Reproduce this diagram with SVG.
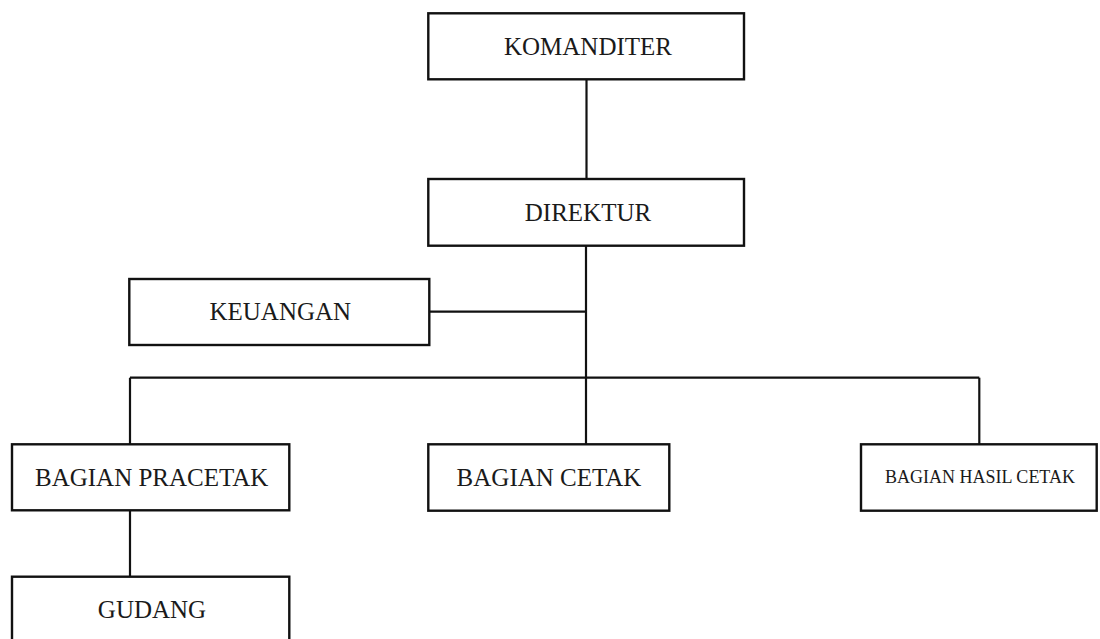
<svg xmlns="http://www.w3.org/2000/svg" width="1100" height="639" viewBox="0 0 1100 639">
<style>
.box{fill:#fff;stroke:#111;stroke-width:2.4}
.lbl{font-family:"Liberation Serif","Times New Roman",serif;font-size:25px;fill:#1a1a1a;text-anchor:middle}
.sm{font-size:18px}
.ln{stroke:#111;stroke-width:2.2;fill:none}
</style>
<rect width="1100" height="639" fill="#fff"/>
<g id="connectors">
<line class="ln" x1="586.5" y1="79" x2="586.5" y2="179"/>
<line class="ln" x1="586" y1="246" x2="586" y2="444"/>
<line class="ln" x1="429" y1="311.7" x2="586" y2="311.7"/>
<line class="ln" x1="130" y1="377.7" x2="979.3" y2="377.7"/>
<line class="ln" x1="130" y1="377.7" x2="130" y2="444"/>
<line class="ln" x1="979.3" y1="377.7" x2="979.3" y2="444"/>
<line class="ln" x1="130" y1="510" x2="130" y2="577"/>
</g>
<g id="komanditer">
<rect class="box" x="428.3" y="13.3" width="315.7" height="66"/>
<text class="lbl" x="588" y="55">KOMANDITER</text>
</g>
<g id="direktur">
<rect class="box" x="428.3" y="179" width="315.7" height="66.7"/>
<text class="lbl" x="588" y="220.7">DIREKTUR</text>
</g>
<g id="keuangan">
<rect class="box" x="129.3" y="279" width="300" height="66"/>
<text class="lbl" x="280.3" y="320">KEUANGAN</text>
</g>
<g id="bagian-pracetak">
<rect class="box" x="12" y="444.3" width="277.3" height="66"/>
<text class="lbl" x="151.7" y="485.7">BAGIAN PRACETAK</text>
</g>
<g id="bagian-cetak">
<rect class="box" x="428.3" y="444.3" width="241" height="66.4"/>
<text class="lbl" x="549" y="485.7">BAGIAN CETAK</text>
</g>
<g id="bagian-hasil-cetak">
<rect class="box" x="861" y="444.3" width="235.7" height="66.4"/>
<text class="lbl sm" x="980" y="483">BAGIAN HASIL CETAK</text>
</g>
<g id="gudang">
<rect class="box" x="12" y="576.7" width="277.3" height="75"/>
<text class="lbl" x="152" y="618">GUDANG</text>
</g>
</svg>
